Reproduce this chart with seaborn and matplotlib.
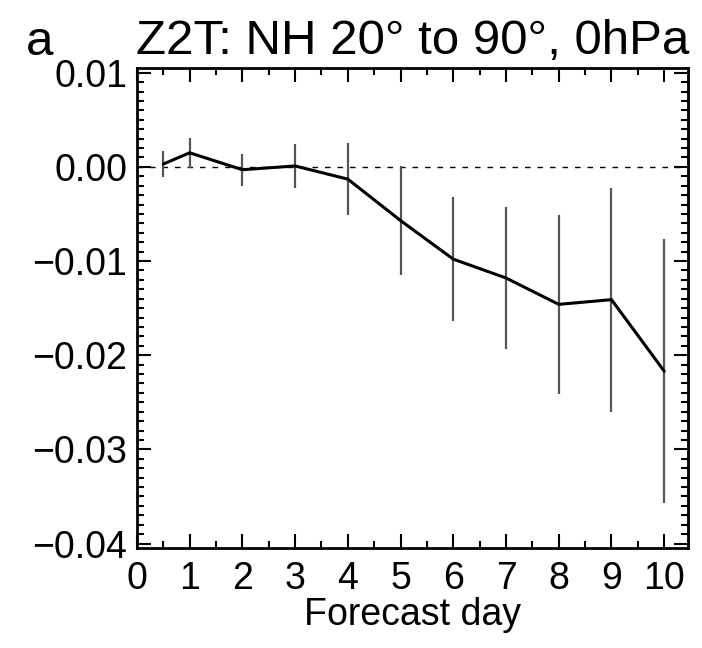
import numpy as np
import pandas as pd
import matplotlib
matplotlib.use('Agg')
import matplotlib.pyplot as plt
import seaborn as sns
from matplotlib.ticker import MultipleLocator, FormatStrFormatter

# Data
days = [0.5, 1, 2, 3, 4, 5, 6, 7, 8, 9, 10]
mean_diff = [0.0003, 0.0015, -0.0003, 0.0001, -0.0013, -0.0057, -0.0098, -0.0118, -0.0146, -0.0141, -0.0217]
err = [0.0014, 0.0016, 0.0017, 0.0023, 0.0038, 0.0058, 0.0066, 0.0075, 0.0095, 0.0119, 0.0140]

title = 'Z2T: NH 20° to 90°, 0hPa'
panel_label = 'a'

for_plotting = pd.DataFrame({'day': days, 'diff': mean_diff, 'err': err})

sns.set_style('ticks')
plt.rcParams['font.family'] = ['Liberation Sans', 'DejaVu Sans']
plt.rcParams.update({'text.color': 'black', 'axes.labelcolor': 'black',
                     'xtick.color': 'black', 'ytick.color': 'black',
                     'axes.edgecolor': 'black'})

fig = plt.figure(figsize=(7.02, 6.48), dpi=100)
ax = fig.add_axes([0.195, 0.154, 0.785, 0.741])

# zero line
ax.axhline(0, color='black', lw=1, ls=(0, (4, 5)), zorder=1)

# error bars
ax.vlines(for_plotting['day'], for_plotting['diff'] - for_plotting['err'],
          for_plotting['diff'] + for_plotting['err'], color='#555555', lw=1.6, zorder=2)

sns.lineplot(x='day', y='diff', data=for_plotting, color='black', lw=2.2, ax=ax, zorder=3)

ax.set_xlim(0, 10.45)
ax.set_ylim(-0.0405, 0.0105)
ax.xaxis.set_major_locator(MultipleLocator(1))
ax.xaxis.set_minor_locator(MultipleLocator(0.5))
ax.yaxis.set_major_locator(MultipleLocator(0.01))
ax.yaxis.set_minor_locator(MultipleLocator(0.001))
ax.yaxis.set_major_formatter(FormatStrFormatter('%.2f'))
ax.tick_params(which='both', direction='in', top=True, right=True, width=1.5,
               labelsize=27, pad=7, colors='black')
ax.tick_params(axis='x', pad=9)
ax.tick_params(which='major', length=10)
ax.tick_params(which='minor', length=5)
for sp in ax.spines.values():
    sp.set_linewidth(2)
    sp.set_color('black')
ax.set_yticklabels([t.replace('-', '\u2212') for t in ['%.2f' % v for v in ax.get_yticks()]])

ax.set_xlabel('Forecast day', fontsize=27, labelpad=0)
ax.set_ylabel('')
ax.set_title(title, fontsize=35.5, pad=10)
fig.text(0.037, 0.915, panel_label, fontsize=35.5, ha='left', va='baseline')

plt.savefig('out.png', dpi=100)
